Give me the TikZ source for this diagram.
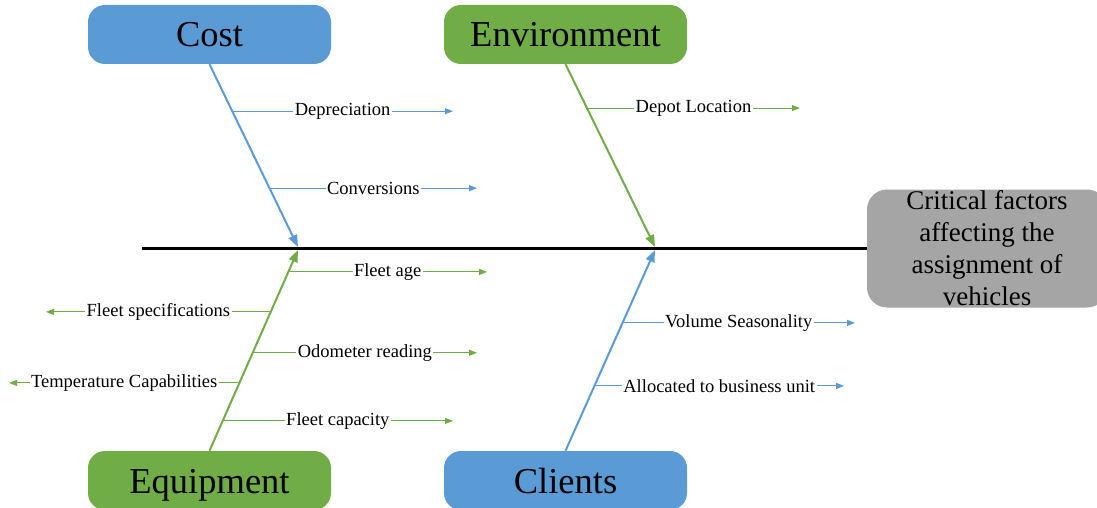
\documentclass[tikz,border=0pt]{standalone}
\usepackage{fontspec}
\setmainfont{Liberation Serif}
\usetikzlibrary{arrows.meta,calc}
\definecolor{fbblue}{HTML}{5B9BD5}
\definecolor{fbgreen}{HTML}{70AD47}
\definecolor{fbgray}{HTML}{A5A5A5}
\begin{document}
\begin{tikzpicture}[x=1pt,y=-1pt,
  cat/.style={rounded corners=17pt, minimum width=243pt, minimum height=59pt,
    inner sep=0pt, text height=25pt, text depth=0pt,
    font=\fontsize{36.5}{40}\selectfont},
  head/.style={fill=fbgray, rounded corners=20pt, minimum width=240pt,
    minimum height=118pt, inner sep=0pt, align=center,
    font=\fontsize{27}{32}\selectfont},
  bone/.style={line width=2pt, -{Triangle[length=12pt,width=9pt]}},
  twig/.style={line width=1.1pt, -{Triangle[length=8pt,width=6pt]}},
  lab/.style={fill=white, inner sep=1.5pt, text=black,
    font=\fontsize{18.5}{20}\selectfont},
]
\useasboundingbox (0,0) rectangle (1097,508);

% category boxes
\node[cat, fill=fbblue]  (cost)  at (209.5,34.5)  {Cost};
\node[cat, fill=fbgreen] (env)   at (565.5,34.5)  {Environment};
\node[cat, fill=fbgreen] (equip) at (209.5,480.5) {Equipment};
\node[cat, fill=fbblue]  (cli)   at (565.5,480.5) {Clients};

% head of the fish
\node[head] (hd) at (987,248.5) {Critical factors\\affecting the\\assignment of\\vehicles};

% spine
\coordinate (tail) at (142,248.5);
\draw[line width=3.5pt] (tail) -- (hd.west);

% main bones
\coordinate (costTip) at (298,247);
\coordinate (envTip)  at (655,247);
\coordinate (eqTip)   at (298,250);
\coordinate (cliTip)  at (655,250);
\draw[bone, fbblue]  (cost.south)  -- (costTip);
\draw[bone, fbgreen] (env.south)   -- (envTip);
\draw[bone, fbgreen] (equip.north) -- (eqTip);
\draw[bone, fbblue]  (cli.north)   -- (cliTip);

% cost causes
\coordinate (c1) at ($(cost.south)!0.257!(costTip)$);
\coordinate (c2) at ($(cost.south)!0.678!(costTip)$);
\coordinate (c1e) at (453,0 |- c1);
\coordinate (c2e) at (477,0 |- c2);
\draw[twig, fbblue] (c1) -- node[lab] {Depreciation} (c1e);
\draw[twig, fbblue] (c2) -- node[lab] {Conversions} (c2e);

% environment causes
\coordinate (e1) at ($(env.south)!0.240!(envTip)$);
\coordinate (e1e) at (800,0 |- e1);
\draw[twig, fbgreen] (e1) -- node[lab] {Depot Location} (e1e);

% equipment causes
\coordinate (q1) at ($(eqTip)!0.109!(equip.north)$);
\coordinate (q2) at ($(eqTip)!0.308!(equip.north)$);
\coordinate (q3) at ($(eqTip)!0.512!(equip.north)$);
\coordinate (q4) at ($(eqTip)!0.662!(equip.north)$);
\coordinate (q5) at ($(eqTip)!0.851!(equip.north)$);
\coordinate (q1e) at (487,0 |- q1);
\coordinate (q2e) at (46,0 |- q2);
\coordinate (q3e) at (477,0 |- q3);
\coordinate (q4e) at (9,0 |- q4);
\coordinate (q5e) at (453,0 |- q5);
\draw[twig, fbgreen] (q1) -- node[lab] {Fleet age} (q1e);
\draw[twig, fbgreen] (q2) -- node[lab] {Fleet specifications} (q2e);
\draw[twig, fbgreen] (q3) -- node[lab] {Odometer reading} (q3e);
\draw[twig, fbgreen] (q4) -- node[lab] {Temperature Capabilities} (q4e);
\draw[twig, fbgreen] (q5) -- node[lab] {Fleet capacity} (q5e);

% client causes
\coordinate (k1) at ($(cliTip)!0.363!(cli.north)$);
\coordinate (k2) at ($(cliTip)!0.677!(cli.north)$);
\coordinate (k1e) at (855,0 |- k1);
\coordinate (k2e) at (844,0 |- k2);
\draw[twig, fbblue] (k1) -- node[lab] {Volume Seasonality} (k1e);
\draw[twig, fbblue] (k2) -- node[lab] {Allocated to business unit} (k2e);
\end{tikzpicture}
\end{document}
